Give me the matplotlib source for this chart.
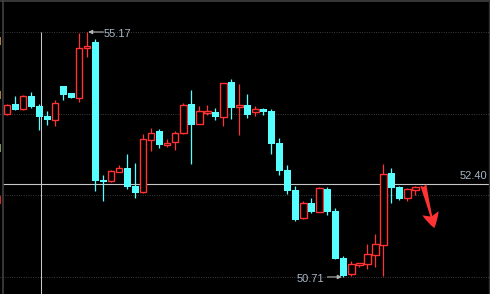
import numpy as np
import matplotlib
matplotlib.use("Agg")
import matplotlib.pyplot as plt

# OHLC data
opens  = [53.68, 53.86, 53.76, 54.00, 53.82, 53.64, 53.57, 54.19, 54.06, 53.96,
          54.87, 54.98, 52.48, 52.46, 52.63, 52.69, 52.37, 52.25, 53.21, 53.37,
          53.12, 53.16, 53.33, 53.86, 53.49, 53.70, 53.71, 53.62, 54.26, 53.81,
          53.84, 53.72, 53.77, 53.73, 53.15, 52.66, 52.29, 51.78, 52.06, 51.90,
          52.31, 51.91, 51.06, 50.76, 50.93, 50.95, 51.11, 51.29, 52.60, 52.35,
          52.14, 52.30]
highs  = [53.86, 54.00, 54.02, 54.08, 53.86, 53.73, 53.93, 54.19, 54.06, 55.16,
          55.17, 55.04, 52.57, 52.66, 52.74, 52.95, 52.78, 53.31, 53.42, 53.40,
          53.23, 53.37, 53.88, 54.11, 53.82, 53.84, 53.79, 54.25, 54.31, 54.22,
          54.04, 53.82, 53.79, 53.77, 53.24, 52.75, 52.37, 52.09, 52.15, 52.35,
          52.35, 51.97, 51.09, 51.00, 50.97, 51.31, 51.49, 52.77, 52.69, 52.37,
          52.33, 52.37]
lows   = [53.66, 53.75, 53.75, 53.79, 53.39, 53.48, 53.46, 53.93, 53.97, 53.90,
          54.71, 52.28, 52.10, 52.43, 52.63, 52.32, 52.14, 52.23, 53.01, 53.05,
          53.08, 53.03, 53.31, 52.77, 53.49, 53.65, 53.56, 53.45, 53.59, 53.30,
          53.60, 53.64, 53.66, 52.95, 52.57, 52.22, 51.73, 51.77, 51.88, 51.90,
          51.83, 51.04, 50.71, 50.73, 50.89, 50.86, 50.89, 50.73, 52.06, 52.11,
          52.09, 52.20]
closes = [53.84, 53.75, 54.00, 53.81, 53.63, 53.57, 53.88, 54.02, 53.97, 54.88,
          54.91, 52.46, 52.44, 52.64, 52.69, 52.35, 52.24, 53.22, 53.33, 53.12,
          53.15, 53.33, 53.84, 53.48, 53.74, 53.73, 53.62, 54.25, 53.79, 53.84,
          53.66, 53.77, 53.72, 53.13, 52.64, 52.28, 51.75, 52.06, 51.89, 52.33,
          51.90, 51.04, 50.73, 50.95, 50.97, 51.13, 51.31, 52.59, 52.33, 52.13,
          52.31, 52.34]

current_price = 52.40
current_label = "52.40"
# slivers of the (cut off) left-axis labels
left_mark_vals = [55.01, 54.02, 53.06, 52.11]
left_mark_colors = ["#c99a4a", "#c99a4a", "#8fb06a", "#ff3030"]

UP = "#ff3333"
DOWN = "#55ffff"
BG = "#000000"
LBL = "#a9b7c6"

fig = plt.figure(figsize=(4.9, 2.94), dpi=100, facecolor=BG)
ax = fig.add_axes([0, 0, 1, 1])
ax.set_facecolor(BG)
for s in ax.spines.values():
    s.set_visible(False)
ax.set_xticks([])
ax.set_yticks([])

o = np.array(opens); h = np.array(highs); l = np.array(lows); c = np.array(closes)
x = np.arange(len(o))
up = c >= o

ax.set_xlim(-0.912, 60.31)
ax.set_ylim(50.400, 55.7525)

hi_idx = int(np.argmax(h)); lo_idx = int(np.argmin(l))
for g in np.linspace(l.min(), h.max(), 4):
    ax.axhline(g, color="#4a4a4a", lw=0.7, ls=(0, (0.8, 1.6)), zorder=1)

# borders
ax.plot([2.5/490, 2.5/490], [0, 1], transform=ax.transAxes, color="#404040", lw=1.2, zorder=6)
ax.plot([0, 1], [1 - 0.7/294, 1 - 0.7/294], transform=ax.transAxes, color="#404040", lw=1.2, zorder=6)
ax.plot([488.8/490, 488.8/490], [0, 1], transform=ax.transAxes, color="#303030", lw=1.0, zorder=6)

# crosshair
ax.plot([3/490, 1], [current_price, current_price], transform=ax.get_yaxis_transform(),
        color="#c8c8c8", lw=0.8, zorder=2)
ax.vlines(4.25, 50.400, h.max(), color="#c8c8c8", lw=0.75, zorder=2)

# candles
body_top = np.maximum(o, c); body_bot = np.minimum(o, c)
ax.vlines(x[up], body_top[up], h[up], color=UP, lw=0.9, zorder=3)
ax.vlines(x[up], l[up], body_bot[up], color=UP, lw=0.9, zorder=3)
hgt = np.maximum(body_top - body_bot, 0.015)
ax.bar(x[up], hgt[up], bottom=body_bot[up], width=0.78, facecolor=BG,
       edgecolor=UP, linewidth=1.0, zorder=4)
ax.vlines(x[~up], l[~up], h[~up], color=DOWN, lw=0.9, zorder=3)
ax.bar(x[~up], hgt[~up], bottom=body_bot[~up], width=0.86, facecolor=DOWN,
       edgecolor="none", linewidth=0, zorder=4)

# high / low annotations
ax.annotate("", xy=(hi_idx + 0.1, h.max()), xytext=(hi_idx + 2.0, h.max()),
            arrowprops=dict(arrowstyle="-|>", color="#b4b4b4", lw=0.8, mutation_scale=6,
                            shrinkA=0, shrinkB=0), zorder=5)
ax.text(hi_idx + 2.0, h.max() - 0.03, f"{h.max():.2f}", color=LBL, fontsize=8,
        family="Liberation Sans", ha="left", va="center", zorder=5)
ax.annotate("", xy=(lo_idx - 0.2, l.min()), xytext=(lo_idx - 2.0, l.min()),
            arrowprops=dict(arrowstyle="-|>", color="#b4b4b4", lw=0.8, mutation_scale=6,
                            shrinkA=0, shrinkB=0), zorder=5)
ax.text(lo_idx - 2.35, l.min() - 0.035, f"{l.min():.2f}", color=LBL, fontsize=8,
        family="Liberation Sans", ha="right", va="center", zorder=5)

# current price label
ax.text(487/490, current_price + 0.05, current_label, transform=ax.get_yaxis_transform(),
        color=LBL, fontsize=8, family="Liberation Sans", ha="right", va="bottom", zorder=5)

# slivers of cut-off left labels
for v, col in zip(left_mark_vals, left_mark_colors):
    ax.plot([0.3/490, 0.3/490], [v - 0.07, v + 0.07], transform=ax.get_yaxis_transform(),
            color=col, lw=1.2, solid_capstyle="butt", zorder=6)

# red trend arrow
ax.annotate("", xy=(53.35, 51.60), xytext=(51.97, 52.385),
            arrowprops=dict(arrowstyle="fancy,head_length=1.1,head_width=1.2,tail_width=0.45",
                            fc="#ff3333", ec="none", mutation_scale=10,
                            shrinkA=0, shrinkB=0), zorder=5)

fig.savefig("out.png", dpi=100, facecolor=BG)
